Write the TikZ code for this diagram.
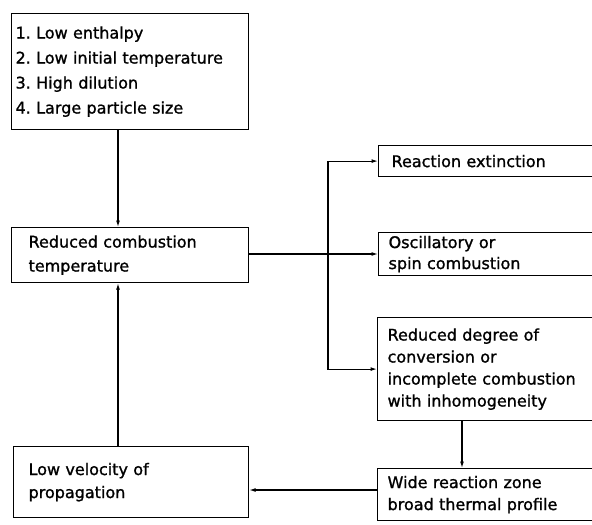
\documentclass[tikz,border=0pt]{standalone}
\usepackage{fontspec}
\setmainfont[FakeBold=1.2]{DejaVu Sans}
\frenchspacing
\usetikzlibrary{arrows.meta}
\tikzset{
  box/.style={draw, rectangle, anchor=north west, align=left, inner ysep=0pt,
    font=\fontsize{16}{23}\selectfont},
  flow/.style={-{Latex[length=6.5pt,width=4pt]}},
}
\begin{document}
\begin{tikzpicture}[x=1pt,y=-1pt,line width=1.2pt]
      \useasboundingbox (0,0) rectangle (592,525);
      \clip (0,0) rectangle (592,525);
      %left column
      \node[box, text width=229pt, inner xsep=4pt, minimum height=116pt,
        font=\fontsize{16}{25}\selectfont] (cond) at (11,13)
        {1. Low enthalpy\\2. Low initial temperature\\3. High dilution\\4. Large particle size};
      \node[box, text width=203pt, inner xsep=17pt, minimum height=55pt,
        font=\fontsize{16}{24}\selectfont] (temp) at (11,227)
        {Reduced combustion\\temperature};
      \node[box, text width=205pt, inner xsep=15pt, minimum height=71pt] (vel) at (13,446)
        {Low velocity of\\propagation};
      %right column, cut by the page edge
      \node[box, text width=214pt, inner xsep=13pt, minimum height=31pt] (ext) at (378,145)
        {Reaction extinction};
      \node[box, text width=220pt, inner xsep=10pt, minimum height=43pt,
        font=\fontsize{16}{21}\selectfont] (osc) at (378,232)
        {Oscillatory or\\spin combustion};
      \node[box, text width=220pt, inner xsep=10pt, minimum height=103pt,
        font=\fontsize{16}{22}\selectfont] (deg) at (377,317)
        {Reduced degree of\\conversion or\\incomplete combustion\\with inhomogeneity};
      \node[box, text width=220pt, inner xsep=10pt, minimum height=52pt,
        font=\fontsize{16}{22}\selectfont] (wide) at (377,468)
        {Wide reaction zone\\broad thermal profile};
      %arrows
      \coordinate (split) at (328,254);
      \draw[flow] (cond.south -| 118,0) -- (temp.north -| 118,0);
      \draw[flow] (vel.north -| 118,0) -- (temp.south -| 118,0);
      \draw (temp.east |- split) -- (split);
      \draw[flow] (split) -- (osc.west |- split);
      \draw[flow] (split) |- (ext.west);
      \draw[flow] (split) |- (deg.west);
      \draw[flow] (deg.south -| 462,0) -- (wide.north -| 462,0);
      \draw[flow] (wide.west |- 0,490) -- (vel.east |- 0,490);
\end{tikzpicture}
\end{document}
